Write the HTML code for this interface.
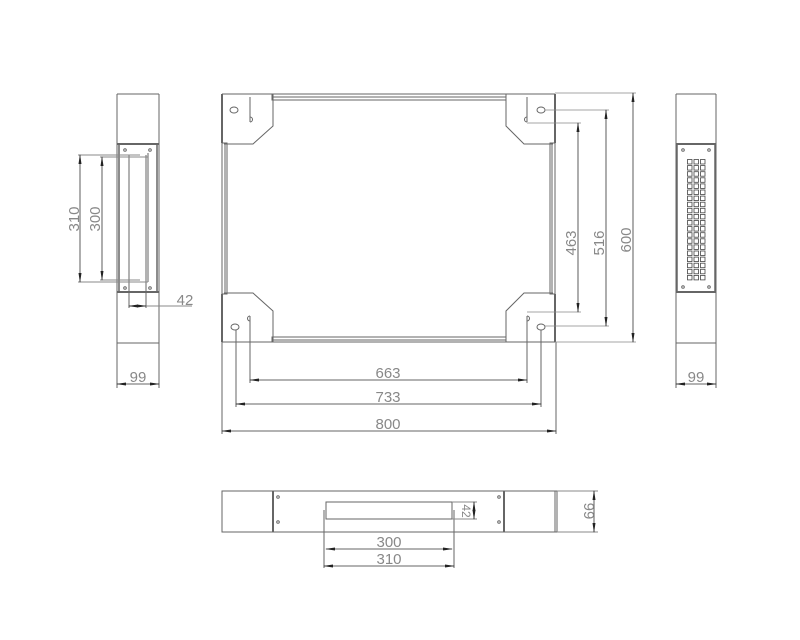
<!DOCTYPE html>
<html><head><meta charset="utf-8"><style>
html,body{margin:0;padding:0;background:#fff;}
svg{display:block;}
text{font-family:"Liberation Sans",sans-serif;font-size:15px;fill:#888;font-weight:normal;}
</style></head><body>
<svg width="800" height="640" viewBox="0 0 800 640" xmlns="http://www.w3.org/2000/svg">
<defs>
<marker id="a" markerWidth="10" markerHeight="6" refX="9" refY="3" orient="auto" markerUnits="userSpaceOnUse"><path d="M0,1.5 L10,3 L0,4.5Z" fill="#222"/></marker>
<marker id="b" markerWidth="10" markerHeight="6" refX="1" refY="3" orient="auto" markerUnits="userSpaceOnUse"><path d="M10,1.5 L0,3 L10,4.5Z" fill="#222"/></marker>
</defs>
<g stroke="#666" stroke-width="1" fill="none">
<rect x="272" y="94" width="234" height="6"/>
<line x1="272" y1="97" x2="506" y2="97"/>
<rect x="272" y="337" width="234" height="5"/>
<line x1="272" y1="340" x2="506" y2="340"/>
<rect x="222" y="143" width="5" height="151"/>
<line x1="225" y1="143" x2="225" y2="294"/>
<rect x="550" y="143" width="5" height="151"/>
<line x1="552" y1="143" x2="552" y2="294"/>
<path d="M222,94 H273 V126 L253,144 H224"/>
<line x1="222" y1="94" x2="222" y2="143" stroke-width="2"/>
<line x1="250" y1="97" x2="250" y2="122"/>
<ellipse cx="234" cy="110" rx="4" ry="3"/>
<path d="M250,122 a2.5,2.5 0 1 0 0,-5"/>
<path d="M555,94 H506 V126 L524,144 H553"/>
<line x1="555" y1="94" x2="555" y2="143" stroke-width="2"/>
<line x1="527" y1="97" x2="527" y2="122"/>
<ellipse cx="541" cy="110" rx="4" ry="3"/>
<path d="M527,122 a2.5,2.5 0 1 1 0,-5"/>
<path d="M222,342 H273 V311 L253,293 H224"/>
<line x1="222" y1="294" x2="222" y2="342" stroke-width="2"/>
<line x1="250" y1="316" x2="250" y2="342"/>
<ellipse cx="235" cy="327" rx="4" ry="3"/>
<path d="M250,316 a2.5,2.5 0 1 0 0,5"/>
<path d="M555,342 H506 V311 L524,293 H553"/>
<line x1="555" y1="294" x2="555" y2="342" stroke-width="2"/>
<line x1="527" y1="316" x2="527" y2="342"/>
<ellipse cx="541" cy="327" rx="4" ry="3"/>
<path d="M527,316 a2.5,2.5 0 1 1 0,5"/>
<line x1="250" y1="342" x2="250" y2="383"/>
<line x1="527" y1="342" x2="527" y2="383"/>
<line x1="236" y1="330" x2="236" y2="407"/>
<line x1="541" y1="330" x2="541" y2="407"/>
<line x1="222" y1="342" x2="222" y2="434"/>
<line x1="556" y1="342" x2="556" y2="434"/>
</g>
<g stroke="#333" stroke-width="0.8" fill="none">
<line x1="250" y1="380" x2="527" y2="380" marker-start="url(#b)" marker-end="url(#a)"/>
<line x1="236" y1="404" x2="541" y2="404" marker-start="url(#b)" marker-end="url(#a)"/>
<line x1="222" y1="431" x2="556" y2="431" marker-start="url(#b)" marker-end="url(#a)"/>
</g>
<g stroke="#888" stroke-width="0.8" fill="none">
<line x1="527" y1="123" x2="581" y2="123"/>
<line x1="527" y1="312" x2="581" y2="312"/>
<line x1="545" y1="110" x2="609" y2="110"/>
<line x1="545" y1="326" x2="609" y2="326"/>
<line x1="555" y1="93" x2="636" y2="93"/>
<line x1="555" y1="342" x2="636" y2="342"/>
</g>
<g stroke="#333" stroke-width="0.8" fill="none">
<line x1="578" y1="123" x2="578" y2="312" marker-start="url(#b)" marker-end="url(#a)"/>
<line x1="606" y1="110" x2="606" y2="326" marker-start="url(#b)" marker-end="url(#a)"/>
<line x1="633" y1="93" x2="633" y2="342" marker-start="url(#b)" marker-end="url(#a)"/>
</g>
<text x="388" y="378" text-anchor="middle">663</text>
<text x="388" y="402" text-anchor="middle">733</text>
<text x="388" y="429" text-anchor="middle">800</text>
<text transform="translate(576,243) rotate(-90)" text-anchor="middle">463</text>
<text transform="translate(604,243) rotate(-90)" text-anchor="middle">516</text>
<text transform="translate(631,240) rotate(-90)" text-anchor="middle">600</text>

<g stroke="#666" stroke-width="1" fill="none">
<line x1="117" y1="94" x2="159" y2="94"/>
<line x1="117" y1="94" x2="117" y2="388"/>
<line x1="159" y1="94" x2="159" y2="388"/>
<line x1="117" y1="144" x2="159" y2="144" stroke-width="2"/>
<line x1="117" y1="292" x2="159" y2="292" stroke-width="2"/>
<line x1="117" y1="343" x2="159" y2="343"/>
<line x1="119" y1="144" x2="119" y2="292" stroke-width="1.5"/>
<line x1="157" y1="144" x2="157" y2="292" stroke-width="1.5"/>
<line x1="129" y1="155" x2="129" y2="308"/>
<line x1="146" y1="155" x2="146" y2="308"/>
<line x1="148" y1="153" x2="148" y2="282"/>
<circle cx="125" cy="150" r="1.3"/><circle cx="150" cy="150" r="1.3"/>
<circle cx="125" cy="288" r="1.3"/><circle cx="150" cy="288" r="1.3"/>
<line x1="78" y1="155" x2="140" y2="155" stroke="#888"/>
<line x1="78" y1="282" x2="148" y2="282" stroke="#888"/>
<line x1="100" y1="157" x2="148" y2="157" stroke="#888"/>
<line x1="100" y1="280" x2="140" y2="280" stroke="#888"/>
<line x1="129" y1="306" x2="192" y2="306" stroke="#888"/>
</g>
<g stroke="#333" stroke-width="0.8" fill="none">
<line x1="80" y1="155" x2="80" y2="282" marker-start="url(#b)" marker-end="url(#a)"/>
<line x1="102" y1="157" x2="102" y2="280" marker-start="url(#b)" marker-end="url(#a)"/>
<line x1="129" y1="306" x2="146" y2="306" marker-start="url(#b)" marker-end="url(#a)"/>
<line x1="117" y1="384" x2="159" y2="384" marker-start="url(#b)" marker-end="url(#a)"/>
</g>
<text transform="translate(79,219) rotate(-90)" text-anchor="middle">310</text>
<text transform="translate(100,219) rotate(-90)" text-anchor="middle">300</text>
<text x="185" y="305" text-anchor="middle">42</text>
<text x="138" y="382" text-anchor="middle">99</text>

<g stroke="#666" stroke-width="1" fill="none">
<line x1="676" y1="94" x2="716" y2="94"/>
<line x1="676" y1="94" x2="676" y2="388"/>
<line x1="716" y1="94" x2="716" y2="388"/>
<line x1="676" y1="144" x2="716" y2="144" stroke-width="2"/>
<line x1="676" y1="292" x2="716" y2="292" stroke-width="2"/>
<line x1="676" y1="343" x2="716" y2="343"/>
<line x1="677" y1="144" x2="677" y2="292" stroke-width="1.5"/>
<line x1="715" y1="144" x2="715" y2="292" stroke-width="1.5"/>
<circle cx="683" cy="150" r="1.3"/><circle cx="709" cy="150" r="1.3"/>
<circle cx="683" cy="287" r="1.3"/><circle cx="709" cy="287" r="1.3"/>
</g>
<g stroke="#444" stroke-width="0.8" fill="none" id="grid"></g>
<g stroke="#333" stroke-width="0.8" fill="none">
<line x1="676" y1="384" x2="716" y2="384" marker-start="url(#b)" marker-end="url(#a)"/>
</g>
<text x="696" y="382" text-anchor="middle">99</text>

<g stroke="#666" stroke-width="1" fill="none">
<rect x="222" y="491" width="335" height="41"/>
<line x1="273" y1="491" x2="273" y2="532" stroke-width="2"/>
<line x1="504" y1="491" x2="504" y2="532" stroke-width="2"/>
<line x1="555" y1="491" x2="555" y2="532"/>
<line x1="557" y1="491" x2="598" y2="491" stroke="#888"/>
<line x1="557" y1="532" x2="598" y2="532" stroke="#888"/>
<rect x="326" y="502" width="126" height="17"/>
<circle cx="278" cy="497" r="1.3"/><circle cx="278" cy="522" r="1.3"/>
<circle cx="499" cy="497" r="1.3"/><circle cx="499" cy="522" r="1.3"/>
<line x1="324" y1="510" x2="324" y2="568"/>
<line x1="454" y1="510" x2="454" y2="568"/>
<line x1="452" y1="502" x2="477" y2="502" stroke="#888"/>
<line x1="452" y1="519" x2="477" y2="519" stroke="#888"/>
</g>
<g stroke="#333" stroke-width="0.8" fill="none">
<line x1="326" y1="549" x2="452" y2="549" marker-start="url(#b)" marker-end="url(#a)"/>
<line x1="324" y1="566" x2="454" y2="566" marker-start="url(#b)" marker-end="url(#a)"/>
<line x1="594" y1="491" x2="594" y2="532" marker-start="url(#b)" marker-end="url(#a)"/>
<line x1="474" y1="502" x2="474" y2="519" marker-start="url(#b)" marker-end="url(#a)"/>
</g>
<text x="389" y="547" text-anchor="middle">300</text>
<text x="389" y="564" text-anchor="middle">310</text>
<text transform="translate(584,511) rotate(90)" text-anchor="middle">99</text>
<text transform="translate(462,511) rotate(90)" text-anchor="middle" style="font-size:12px">42</text>
</svg>
<script>
(function(){var g=document.getElementById('grid'),s='';for(var r=0;r<20;r++){for(var c=0;c<3;c++){s+='<rect x="'+(687.5+c*6.5)+'" y="'+(159.5+r*6.1)+'" width="4.5" height="4.5"/>';}}g.innerHTML=s;})();
</script>
</body></html>
